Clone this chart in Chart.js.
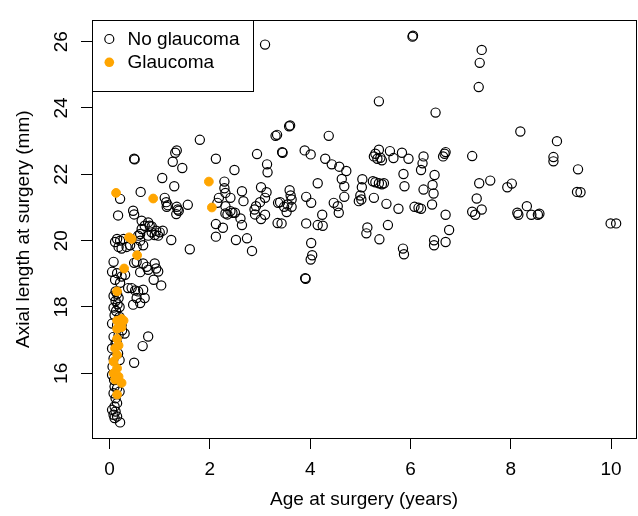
<!DOCTYPE html>
<html>
<head>
<meta charset="utf-8">
<script src="https://cdn.jsdelivr.net/npm/chart.js@4.4.1/dist/chart.umd.min.js"></script>
<style>
  html, body { margin: 0; padding: 0; background: #fff; overflow: hidden; }
  canvas { display: block; }
</style>
</head>
<body>
<canvas id="scatterChart" width="642" height="516"></canvas>
<script>

// tick positions
const xTicks = [0, 2, 4, 6, 8, 10];
const yTicks = [16, 18, 20, 22, 24, 26];

// No glaucoma: age at surgery (years)
const noGlaucomaAge = [
    // older children
    3.10, 6.04, 6.05, 5.37, 6.50, 7.42, 7.38, 7.36, 8.19, 8.92,
    8.85, 8.85, 9.34, 9.32, 9.39, 9.99, 10.10, 7.23, 7.37, 7.59,
    7.32, 7.42, 7.23, 7.29, 7.93, 8.02, 8.13, 8.15, 8.32, 8.41,
    8.54, 8.57,
    // middle
    4.37, 3.58, 3.60, 3.31, 3.34, 3.44, 3.45, 3.89, 4.01, 4.30,
    4.43, 4.58, 4.72, 4.63, 4.68, 4.15, 3.59, 3.61, 3.63, 3.63,
    3.53, 3.48, 3.40, 3.55, 3.92, 4.02, 4.47, 4.55, 4.57, 4.68,
    4.24, 3.43, 3.92, 4.15, 4.25, 5.37, 5.30, 5.27, 5.34, 5.43,
    5.40, 5.59, 5.66, 5.83, 5.96, 6.26, 6.24, 6.21, 6.65, 6.68,
    6.70, 5.04, 5.03, 5.00, 5.02, 4.97, 5.25, 5.30, 5.37, 5.47,
    5.43, 5.27, 5.52, 5.76, 5.86, 5.88, 6.26, 6.44, 6.46, 6.48,
    6.43, 6.08, 6.16, 6.21, 6.70, 6.77, 5.55, 5.14, 5.12, 4.02,
    4.04, 4.01, 3.90, 3.91, 5.38, 5.85, 5.87, 6.47, 6.47, 6.70,
    // under 3.5 years
    1.80, 1.34, 1.31, 0.49, 0.50, 1.26, 2.12, 1.45, 2.49, 2.94,
    3.14, 3.15, 1.05, 1.29, 0.62, 0.21, 0.17, 0.47, 0.49, 1.10,
    1.13, 1.16, 1.14, 1.34, 1.36, 1.33, 1.38, 1.56, 0.64, 0.77,
    0.70, 0.93, 1.06, 0.84, 2.12, 2.26, 2.29, 2.29, 2.31, 2.41,
    2.18, 2.15, 2.31, 2.41, 2.31, 2.50, 2.61, 2.64, 2.64, 2.67,
    2.89, 2.92, 3.00, 3.10, 3.02, 3.13, 2.90, 3.10, 3.36, 3.35,
    2.12, 2.52, 2.74, 2.84, 3.02, 2.35, 2.45, 1.23, 1.60, 0.80,
    0.64, 0.84, 1.00, 0.97, 0.90, 0.77, 0.61,
    // infants
    0.15, 0.21, 0.11, 0.28, 0.18, 0.24, 0.34, 0.41, 0.54, 0.67,
    0.61, 0.57, 0.49, 0.54, 0.67, 0.74, 0.61, 0.90, 0.93, 0.97,
    0.88, 1.03, 0.77, 0.08, 0.05, 0.15, 0.11, 0.24, 0.31, 0.21,
    0.37, 0.44, 0.51, 0.57, 0.67, 0.70, 0.54, 0.47, 0.61, 0.77,
    0.66, 0.49, 0.21,
    // newborn column
    0.12, 0.15, 0.08, 0.18, 0.12, 0.16, 0.08, 0.20, 0.13, 0.10,
    0.20, 0.05, 0.15, 0.25, 0.08, 0.18, 0.30, 0.12, 0.05, 0.17,
    0.08, 0.20, 0.05, 0.10, 0.15, 0.20, 0.08, 0.12, 0.15, 0.10,
    0.05, 0.12, 0.08, 0.15, 0.10, 0.22, 0.06, 0.14, 0.24, 0.09
];

// No glaucoma: axial length (mm)
const noGlaucomaAxial = [
    25.91, 26.15, 26.18, 24.20, 23.86, 25.75, 25.36, 24.63, 23.29, 23.00,
    22.52, 22.39, 22.15, 21.47, 21.46, 20.52, 20.52, 22.55, 21.73, 21.81,
    21.27, 20.94, 20.87, 20.78, 21.61, 21.72, 20.84, 20.78, 21.04, 20.78,
    20.78, 20.81,

    23.16, 23.45, 23.47, 23.16, 23.19, 22.67, 22.65, 22.72, 22.60, 22.47,
    22.30, 22.23, 22.10, 21.86, 21.64, 21.73, 21.52, 21.36, 21.24, 21.02,
    20.86, 21.02, 21.16, 21.09, 21.32, 21.14, 21.14, 21.04, 20.84, 21.32,
    20.78, 20.52, 20.52, 20.47, 20.45, 22.74, 22.62, 22.54, 22.47, 22.42,
    22.50, 22.70, 22.49, 22.65, 22.47, 22.54, 22.33, 22.13, 22.54, 22.62,
    22.67, 21.85, 21.61, 21.36, 21.24, 21.19, 21.79, 21.76, 21.73, 21.73,
    21.70, 21.29, 21.11, 20.96, 22.01, 21.64, 21.54, 21.68, 21.42, 21.98,
    21.09, 21.02, 20.99, 20.96, 20.78, 20.32, 20.47, 20.40, 20.22, 19.93,
    19.56, 19.43, 18.87, 18.85, 20.04, 19.76, 19.59, 20.01, 19.86, 19.96,

    23.04, 22.72, 22.65, 22.47, 22.45, 22.38, 22.47, 22.19, 22.13, 22.61,
    22.30, 22.06, 21.89, 21.64, 21.47, 21.26, 20.76, 20.90, 20.79, 21.29,
    21.16, 21.07, 21.02, 21.02, 20.94, 20.80, 20.90, 21.08, 20.60, 20.55,
    20.45, 20.30, 20.30, 20.43, 20.50, 20.39, 21.78, 21.58, 21.44, 21.29,
    21.29, 21.14, 21.04, 20.89, 20.82, 20.84, 20.67, 20.47, 21.49, 21.19,
    20.94, 21.04, 21.16, 21.29, 21.61, 21.46, 20.79, 20.78, 21.14, 20.53,
    20.12, 20.02, 20.07, 19.69, 20.65, 20.79, 20.84, 20.02, 19.74, 20.45,
    20.35, 20.25, 20.25, 20.15, 20.17, 20.15, 20.20,

    20.05, 20.00, 19.96, 20.05, 19.81, 19.76, 19.81, 19.86, 19.81, 19.86,
    20.00, 20.15, 19.33, 19.36, 19.31, 19.21, 19.05, 19.31, 19.16, 19.07,
    18.82, 18.65, 19.12, 19.36, 19.06, 19.02, 18.82, 18.92, 18.97, 18.73,
    18.57, 18.57, 18.50, 18.47, 18.52, 18.27, 18.27, 18.07, 18.12, 17.11,
    16.82, 16.32, 14.52,

    18.47, 18.40, 18.33, 18.27, 18.18, 18.08, 17.98, 18.00, 17.88, 17.75,
    17.70, 17.50, 17.45, 17.30, 17.10, 17.15, 17.20, 16.90, 16.75, 16.60,
    16.45, 16.40, 15.95, 15.60, 15.55, 15.45, 15.40, 15.25, 15.10, 15.00,
    14.90, 14.85, 14.75, 14.70, 14.65, 17.55, 16.20, 16.95, 17.45, 15.80
];

// Glaucoma
const glaucomaAge = [
    0.13, 0.87, 1.98, 2.04, 0.44, 0.39, 0.55, 0.29, 0.15, 0.24,
    0.15, 0.28, 0.24, 0.15, 0.15, 0.18, 0.11, 0.15, 0.08, 0.15,
    0.08, 0.18, 0.11, 0.24, 0.15
];

const glaucomaAxial = [
    21.44, 21.27, 21.78, 21.00, 20.05, 20.10, 19.56, 19.16, 18.47, 17.64,
    17.59, 17.59, 17.39, 17.34, 17.04, 16.84, 16.75, 16.55, 16.35, 16.15,
    16.00, 15.90, 15.81, 15.71, 15.36
];


const FONT = '"Liberation Sans", Arial, Helvetica, sans-serif';


// frame + legend drawn on top, like base R
const boxAndLegend = {
    id: 'boxAndLegend',
    afterDraw(chart) {
        const ctx = chart.ctx;
        const a = chart.chartArea;

        ctx.save();
        ctx.strokeStyle = '#000';
        ctx.lineWidth = 1;
        ctx.strokeRect(Math.round(a.left) + 0.5, Math.round(a.top) + 0.5,
            Math.round(a.right - a.left), Math.round(a.bottom - a.top));

        // legend box
        const lx = Math.round(a.left) + 0.5;
        const ly = Math.round(a.top) + 0.5;
        ctx.fillStyle = '#fff';
        ctx.fillRect(lx, ly, 161, 71);
        ctx.strokeRect(lx, ly, 161, 71);

        ctx.lineWidth = 1.2;
        ctx.beginPath();
        ctx.arc(109.3, 39, 4.5, 0, Math.PI * 2);
        ctx.stroke();

        ctx.fillStyle = '#FFA500';
        ctx.beginPath();
        ctx.arc(109.3, 62.3, 4.8, 0, Math.PI * 2);
        ctx.fill();

        ctx.fillStyle = '#000';
        ctx.font = '19px ' + FONT;
        ctx.textBaseline = 'middle';
        ctx.textAlign = 'left';
        ctx.fillText('No glaucoma', 127.5, 39.5);
        ctx.fillText('Glaucoma', 127.5, 62.8);
        ctx.restore();
    }
};


new Chart(document.getElementById('scatterChart').getContext('2d'), {

    type: 'scatter',

    data: {
        datasets: [
            {
                label: 'No glaucoma',
                data: noGlaucomaAge.map((age, i) => ({ x: age, y: noGlaucomaAxial[i] })),
                pointStyle: 'circle',
                pointRadius: 4.6,
                pointBorderWidth: 1.2,
                pointBorderColor: '#000',
                pointBackgroundColor: 'rgba(0,0,0,0)',
                order: 2
            },
            {
                label: 'Glaucoma',
                data: glaucomaAge.map((age, i) => ({ x: age, y: glaucomaAxial[i] })),
                pointStyle: 'circle',
                pointRadius: 4.4,
                pointBorderWidth: 1,
                pointBorderColor: '#FFA500',
                pointBackgroundColor: '#FFA500',
                order: 1
            }
        ]
    },

    options: {
        responsive: false,
        animation: false,
        devicePixelRatio: 1,
        layout: { padding: { top: 15, right: 0, bottom: 0, left: 0 } },

        plugins: {
            legend: { display: false },
            tooltip: { enabled: false }
        },

        scales: {
            x: {
                type: 'linear',
                min: -0.35,
                max: 10.5,
                afterBuildTicks: s => { s.ticks = xTicks.map(v => ({ value: v })); },
                afterFit: s => { s.height = 78; },
                grid: { drawOnChartArea: false, drawTicks: true, tickLength: 11, color: '#000', lineWidth: 1 },
                border: { display: false },
                ticks: {
                    color: '#000',
                    padding: 9,
                    maxRotation: 0,
                    font: { family: FONT, size: 19 }
                },
                title: {
                    display: true,
                    text: 'Age at surgery (years)',
                    color: '#000',
                    font: { family: FONT, size: 19 },
                    padding: { top: 0, bottom: 5 }
                }
            },
            y: {
                type: 'linear',
                min: 14.05,
                max: 26.64,
                afterBuildTicks: s => { s.ticks = yTicks.map(v => ({ value: v })); },
                afterFit: s => { s.width = 92; },
                grid: { drawOnChartArea: false, drawTicks: true, tickLength: 11, color: '#000', lineWidth: 1 },
                border: { display: false },
                ticks: {
                    color: '#000',
                    padding: 9,
                    minRotation: 90,
                    maxRotation: 90,
                    crossAlign: 'center',
                    font: { family: FONT, size: 19 }
                },
                title: {
                    display: true,
                    text: 'Axial length at surgery (mm)',
                    color: '#000',
                    font: { family: FONT, size: 19 },
                    padding: { top: 12, bottom: 0 }
                }
            }
        }
    },

    plugins: [boxAndLegend]
});

</script>
</body>
</html>
